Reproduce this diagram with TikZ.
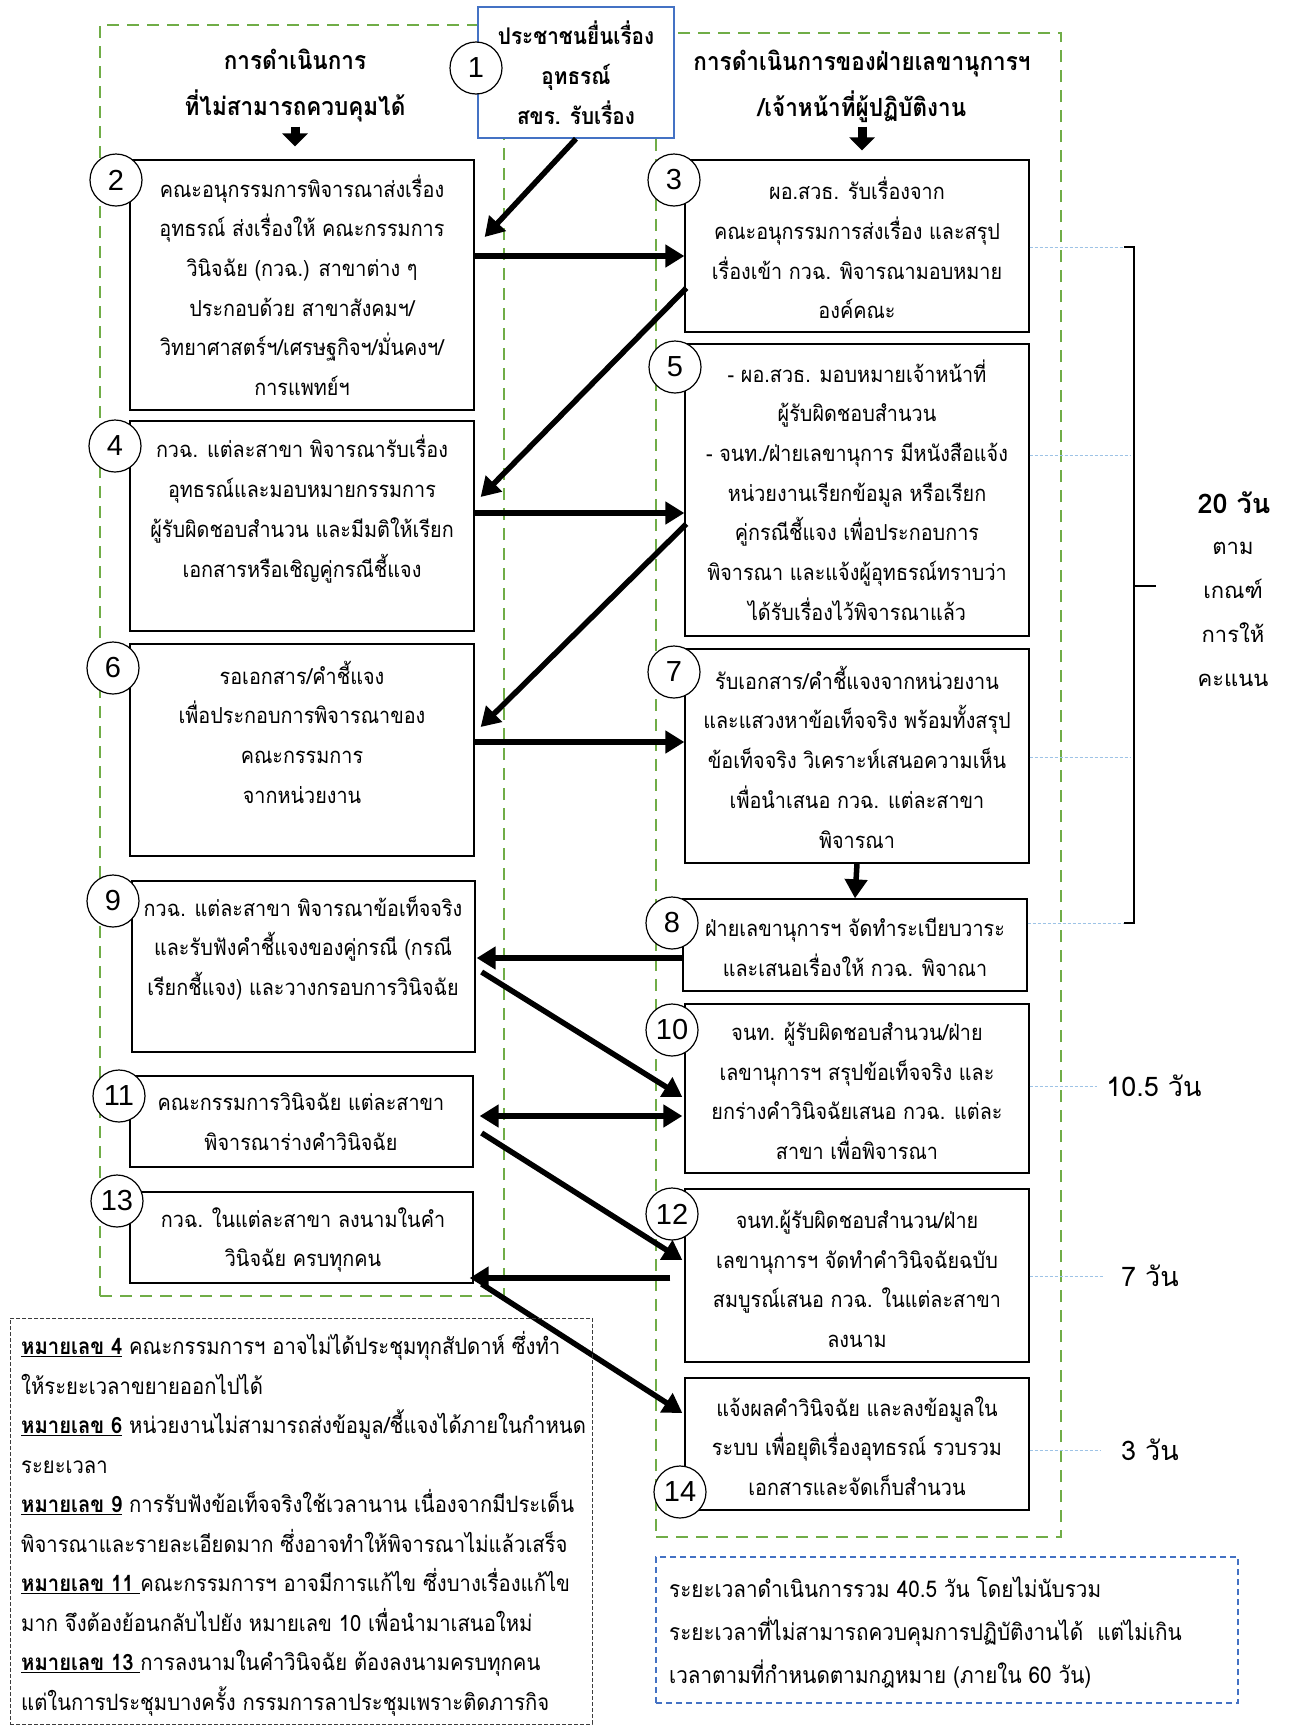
\documentclass[tikz,border=0pt]{standalone}
\usepackage{fontspec}
\setmainfont[Script=Thai,FakeStretch=0.9]{Loma}
\newfontfamily\plainthai[Script=Thai]{Loma}
\newfontfamily\numfont{Liberation Sans}
\usetikzlibrary{arrows.meta,fit,calc}
\definecolor{grn}{RGB}{112,173,71}
\definecolor{bl}{RGB}{68,114,196}
\definecolor{lbl}{RGB}{157,195,230}
\definecolor{gry}{RGB}{60,60,60}
\tikzset{
 stepbox/.style={draw=black, line width=1.3pt, fill=white, inner sep=0pt},
 txt/.style={align=center, inner sep=0pt, font=\fontsize{22}{39.7}\selectfont},
 hdr/.style={align=center, inner sep=0pt, font=\bfseries\fontsize{25}{46}\selectfont},
 num/.style={circle, draw=black, line width=1.2pt, fill=white, minimum size=52pt, inner sep=0pt, font=\numfont\fontsize{29}{29}\selectfont},
 arr/.style={line width=5.5pt, -{Triangle[length=19pt,width=22pt]}},
 darr/.style={line width=5.5pt, {Triangle[length=19pt,width=22pt]}-{Triangle[length=19pt,width=22pt]}},
 hdarr/.style={line width=9pt, -{Triangle[length=13pt,width=25pt]}},
 grnbox/.style={draw=grn, line width=2.2pt, dash pattern=on 12pt off 8pt, inner sep=0pt},
 guide/.style={draw=lbl, line width=0.9pt, dash pattern=on 3pt off 2pt},
 daylbl/.style={inner sep=0pt, font=\plainthai\fontsize{27}{27}\selectfont},
}
\begin{document}
\begin{tikzpicture}[x=1pt,y=-1pt]
\fill[white] (0,0) rectangle (1290,1727);
\useasboundingbox (0,0) rectangle (1290,1727);

% guide ends
\coordinate (g3) at (1130,247);
\coordinate (g5) at (1130,455);
\coordinate (g7) at (1130,757);
\coordinate (g8) at (1124,923);
\coordinate (g10) at (1097,1086);
\coordinate (g12) at (1103,1276);
\coordinate (g14) at (1100,1450);

% green frames
\node[grnbox, fit={(100,25) (504,1296)}] (gl) {};
\node[grnbox, fit={(656,33) (1061,1537)}] (gr) {};

% box 1
\node[draw=bl, line width=1.5pt, fill=white, inner sep=0pt, fit={(478,7) (674,138)}] (b1) {};
\node[align=center, inner sep=0pt, font=\bfseries\fontsize{23}{40}\selectfont] (t1) at (576,73) {ประชาชนยื่นเรื่อง\\อุทธรณ์\\สขร. รับเรื่อง};

% headers
\node[hdr] (hl) at (295,86) {การดำเนินการ\\ที่ไม่สามารถควบคุมได้};
\node[hdr] (hr) at (862,86) {การดำเนินการของฝ่ายเลขานุการฯ\\/เจ้าหน้าที่ผู้ปฏิบัติงาน};

% boxes
\node[stepbox, fit={(130,160) (474,410)}] (b2) {};
\node[stepbox, fit={(685,160) (1029,332)}] (b3) {};
\node[stepbox, fit={(130,421) (474,631)}] (b4) {};
\node[stepbox, fit={(685,344) (1029,636)}] (b5) {};
\node[stepbox, fit={(130,644) (474,856)}] (b6) {};
\node[stepbox, fit={(685,649) (1029,863)}] (b7) {};
\node[stepbox, fit={(683,899) (1027,991)}] (b8) {};
\node[stepbox, fit={(132,881) (475,1052)}] (b9) {};
\node[stepbox, fit={(685,1004) (1029,1173)}] (b10) {};
\node[stepbox, fit={(130,1076) (473,1167)}] (b11) {};
\node[stepbox, fit={(685,1189) (1029,1362)}] (b12) {};
\node[stepbox, fit={(130,1192) (473,1283)}] (b13) {};
\node[stepbox, fit={(685,1378) (1029,1510)}] (b14) {};

% guides from boxes
\draw[guide] (b3.east |- g3) -- (g3);
\draw[guide] (b5.east |- g5) -- (g5);
\draw[guide] (b7.east |- g7) -- (g7);
\draw[guide] (b8.east |- g8) -- (g8);
\draw[guide] (b10.east |- g10) -- (g10);
\draw[guide] (b12.east |- g12) -- (g12);
\draw[guide] (b14.east |- g14) -- (g14);

% texts
\node[txt] (t2) at (302,285) {คณะอนุกรรมการพิจารณาส่งเรื่อง\\อุทธรณ์ ส่งเรื่องให้ คณะกรรมการ\\วินิจฉัย (กวฉ.) สาขาต่าง ๆ\\ประกอบด้วย สาขาสังคมฯ/\\วิทยาศาสตร์ฯ/เศรษฐกิจฯ/มั่นคงฯ/\\การแพทย์ฯ};
\node[txt] (t3) at (857,248) {ผอ.สวธ. รับเรื่องจาก\\คณะอนุกรรมการส่งเรื่อง และสรุป\\เรื่องเข้า กวฉ. พิจารณามอบหมาย\\องค์คณะ};
\node[txt] (t4) at (302,509) {กวฉ. แต่ละสาขา พิจารณารับเรื่อง\\อุทธรณ์และมอบหมายกรรมการ\\ผู้รับผิดชอบสำนวน และมีมติให้เรียก\\เอกสารหรือเชิญคู่กรณีชี้แจง};
\node[txt] (t5) at (857,490) {- ผอ.สวธ. มอบหมายเจ้าหน้าที่\\ผู้รับผิดชอบสำนวน\\- จนท./ฝ่ายเลขานุการ มีหนังสือแจ้ง\\หน่วยงานเรียกข้อมูล หรือเรียก\\คู่กรณีชี้แจง เพื่อประกอบการ\\พิจารณา และแจ้งผู้อุทธรณ์ทราบว่า\\ได้รับเรื่องไว้พิจารณาแล้ว};
\node[txt] (t6) at (302,732) {รอเอกสาร/คำชี้แจง\\เพื่อประกอบการพิจารณาของ\\คณะกรรมการ\\จากหน่วยงาน};
\node[txt] (t7) at (857,757) {รับเอกสาร/คำชี้แจงจากหน่วยงาน\\และแสวงหาข้อเท็จจริง พร้อมทั้งสรุป\\ข้อเท็จจริง วิเคราะห์เสนอความเห็น\\เพื่อนำเสนอ กวฉ. แต่ละสาขา\\พิจารณา};
\node[txt] (t8) at (855,947) {ฝ่ายเลขานุการฯ จัดทำระเบียบวาระ\\และเสนอเรื่องให้ กวฉ. พิจาณา};
\node[txt] (t9) at (303,948) {กวฉ. แต่ละสาขา พิจารณาข้อเท็จจริง\\และรับฟังคำชี้แจงของคู่กรณี (กรณี\\เรียกชี้แจง) และวางกรอบการวินิจฉัย};
\node[txt] (t10) at (857,1091) {จนท. ผู้รับผิดชอบสำนวน/ฝ่าย\\เลขานุการฯ สรุปข้อเท็จจริง และ\\ยกร่างคำวินิจฉัยเสนอ กวฉ. แต่ละ\\สาขา เพื่อพิจารณา};
\node[txt] (t11) at (301,1122) {คณะกรรมการวินิจฉัย แต่ละสาขา\\พิจารณาร่างคำวินิจฉัย};
\node[txt] (t12) at (857,1279) {จนท.ผู้รับผิดชอบสำนวน/ฝ่าย\\เลขานุการฯ จัดทำคำวินิจฉัยฉบับ\\สมบูรณ์เสนอ กวฉ. ในแต่ละสาขา\\ลงนาม};
\node[txt] (t13) at (303,1240) {กวฉ. ในแต่ละสาขา ลงนามในคำ\\วินิจฉัย ครบทุกคน};
\node[txt] (t14) at (857,1446) {แจ้งผลคำวินิจฉัย และลงข้อมูลใน\\ระบบ เพื่อยุติเรื่องอุทธรณ์ รวบรวม\\เอกสารและจัดเก็บสำนวน};

% circles
\node[num] (c1) at (476,68) {1};
\node[num] (c2) at (116,180) {2};
\node[num] (c3) at (674,180) {3};
\node[num] (c4) at (115,446) {4};
\node[num] (c5) at (675,367) {5};
\node[num] (c6) at (113,668) {6};
\node[num] (c7) at (674,672) {7};
\node[num] (c8) at (672,923) {8};
\node[num] (c9) at (113,901) {9};
\node[num] (c10) at (672,1030) {10};
\node[num] (c11) at (119,1096) {11};
\node[num] (c12) at (672,1214) {12};
\node[num] (c13) at (117,1201) {13};
\node[num] (c14) at (680,1492) {14};

% header arrows
\draw[hdarr] ([yshift=-4pt]hl.south) -- ($(hl.south |- b2.north)+(0,-13)$);
\draw[hdarr] ([yshift=-4pt]hr.south) -- ($(hr.south |- b3.north)+(0,-9)$);

% flow arrows
\draw[arr] (b1.south) -- ($(b2.east |- 0,237)+(10,0)$);
\draw[arr] (b2.east |- 0,256) -- (b3.west |- 0,256);
\draw[arr] ($(b3.west |- 0,288)+(2,0)$) -- ($(b4.east |- 0,497)+(6,0)$);
\draw[arr] (b4.east |- 0,513) -- (b5.west |- 0,513);
\draw[arr] ($(b5.west |- 0,524)+(2,0)$) -- ($(b6.east |- 0,727)+(6,0)$);
\draw[arr] (b6.east |- 0,742) -- (b7.west |- 0,742);
\draw[arr] (b7.south) -- (b8.north);
\draw[arr] (b8.west |- 0,958) -- ($(b9.east |- 0,958)+(1,0)$);
\draw[arr] ($(b9.east |- 0,972)+(6,0)$) -- ($(b10.west |- 0,1097)+(-2,0)$);
\draw[darr] ($(b11.east |- 0,1116)+(6,0)$) -- ($(b10.west |- 0,1116)+(-2,0)$);
\draw[arr] ($(b11.east |- 0,1133)+(8,0)$) -- ($(b12.west |- 0,1260)+(-2,0)$);
\draw[arr] ($(b12.west |- 0,1278)+(-14,0)$) -- ($(b13.east |- 0,1278)+(-4,0)$);
\draw[arr] ($(b13.east |- 0,1284)+(8,0)$) -- ($(b14.west |- 0,1413)+(-2,0)$);

% bracket
\draw[line width=1.6pt] (1124,247) -- (1134,247) -- (1134,923) -- (1124,923);
\draw[line width=1.6pt] (1134,586) -- (1156,586);
\node[inner sep=0pt, font=\plainthai\bfseries\fontsize{27}{27}\selectfont] (d20) at (1234,503) {20 วัน};
\node[align=center, inner sep=0pt, font=\plainthai\fontsize{22}{44}\selectfont] (crit) at (1233,614) {ตาม\\เกณฑ์\\การให้\\คะแนน};
\node[daylbl] (d105) at (1154,1086) {10.5 วัน};
\node[daylbl] (d7) at (1150,1276) {7 วัน};
\node[daylbl] (d3) at (1150,1450) {3 วัน};

% notes
\node[draw=gry, line width=1pt, dash pattern=on 4pt off 2pt, inner sep=0pt, fit={(10,1318) (592,1724)}] (nb) {};
\node[anchor=west, align=left, inner sep=0pt, font=\fontsize{22.5}{39.5}\selectfont] (nt) at (21,1524) {%
\underline{\textbf{หมายเลข 4}} คณะกรรมการฯ อาจไม่ได้ประชุมทุกสัปดาห์ ซึ่งทำ\\
ให้ระยะเวลาขยายออกไปได้\\
\underline{\textbf{หมายเลข 6}} หน่วยงานไม่สามารถส่งข้อมูล/ชี้แจงได้ภายในกำหนด\\
ระยะเวลา\\
\underline{\textbf{หมายเลข 9}} การรับฟังข้อเท็จจริงใช้เวลานาน เนื่องจากมีประเด็น\\
พิจารณาและรายละเอียดมาก ซึ่งอาจทำให้พิจารณาไม่แล้วเสร็จ\\
\underline{\textbf{หมายเลข 11 }}คณะกรรมการฯ อาจมีการแก้ไข ซึ่งบางเรื่องแก้ไข\\
มาก จึงต้องย้อนกลับไปยัง หมายเลข 10 เพื่อนำมาเสนอใหม่\\
\underline{\textbf{หมายเลข 13 }}การลงนามในคำวินิจฉัย ต้องลงนามครบทุกคน\\
แต่ในการประชุมบางครั้ง กรรมการลาประชุมเพราะติดภารกิจ};

% summary
\node[draw=bl, line width=1.5pt, dash pattern=on 6pt off 4pt, inner sep=0pt, fit={(656,1557) (1238,1703)}] (sb) {};
\node[anchor=west, align=left, inner sep=0pt, font=\fontsize{23}{43}\selectfont] (st) at (669,1633) {%
ระยะเวลาดำเนินการรวม 40.5 วัน โดยไม่นับรวม\\
ระยะเวลาที่ไม่สามารถควบคุมการปฏิบัติงานได้~~แต่ไม่เกิน\\
เวลาตามที่กำหนดตามกฎหมาย (ภายใน 60 วัน)};
\end{tikzpicture}
\end{document}
